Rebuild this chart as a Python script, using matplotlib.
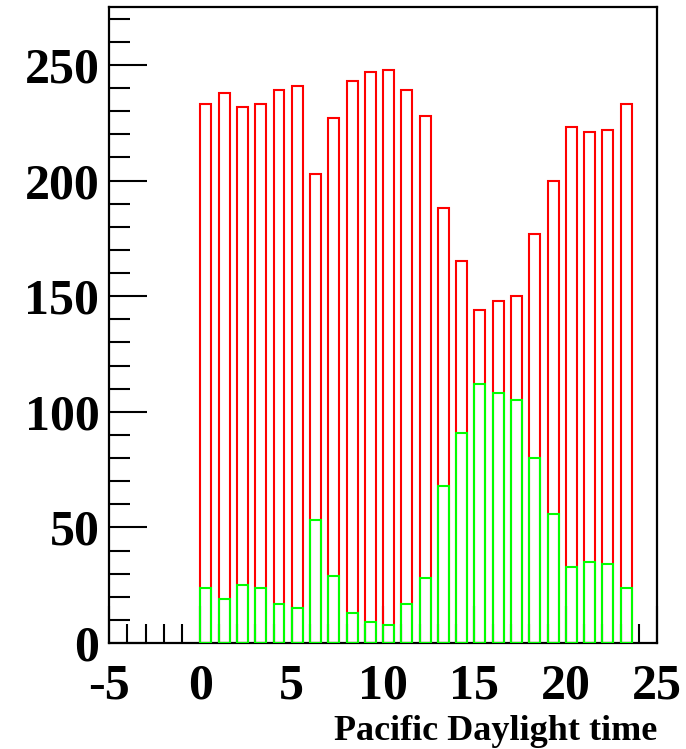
import numpy as np
import matplotlib
matplotlib.use("Agg")
import matplotlib.pyplot as plt
from matplotlib.ticker import MultipleLocator

# hourly counts, Pacific Daylight time
hours = np.arange(24)
all_counts = [233, 238, 232, 233, 239, 241, 203, 227, 243, 247, 248, 239,
              228, 188, 165, 144, 148, 150, 177, 200, 223, 221, 222, 233]
sel_counts = [24, 19, 25, 24, 17, 15, 53, 29, 13, 9, 8, 17,
              28, 68, 91, 112, 108, 105, 80, 56, 33, 35, 34, 24]

plt.rcParams["font.family"] = ["Liberation Serif", "DejaVu Serif"]
plt.rcParams["font.weight"] = "bold"
plt.rcParams["axes.unicode_minus"] = False

fig = plt.figure(figsize=(6.86, 7.49), dpi=100)
ax = fig.add_axes([0.159, 0.1415, 0.799, 0.849])

ax.bar(hours, all_counts, width=0.6, align="edge", fill=False,
       edgecolor="#ff0000", linewidth=1.5, zorder=3)
ax.bar(hours, sel_counts, width=0.6, align="edge", fill=False,
       edgecolor="#00ff00", linewidth=1.5, zorder=4)

ax.set_xlim(-5, 25)
ax.set_ylim(0, 275)

ax.xaxis.set_major_locator(MultipleLocator(5))
ax.xaxis.set_minor_locator(MultipleLocator(1))
ax.yaxis.set_major_locator(MultipleLocator(50))
ax.yaxis.set_minor_locator(MultipleLocator(10))

ax.tick_params(which="both", direction="in", width=1.5, color="black",
               top=False, right=False)
ax.tick_params(axis="x", which="major", length=27, pad=15, labelsize=36)
ax.tick_params(axis="x", which="minor", length=13.5)
ax.tick_params(axis="y", which="major", length=27, pad=7, labelsize=36)
ax.tick_params(axis="y", which="minor", length=15)

for lab in ax.get_xticklabels() + ax.get_yticklabels():
    lab.set_fontweight("bold")

for side in ["left", "bottom", "top", "right"]:
    ax.spines[side].set_linewidth(1.6)
    ax.spines[side].set_color("black")

ax.set_xlabel("Pacific Daylight time", fontsize=26, fontweight="bold")
ax.xaxis.set_label_coords(1.0, -0.113)
ax.xaxis.label.set_horizontalalignment("right")

fig.savefig("out.png", dpi=100)
